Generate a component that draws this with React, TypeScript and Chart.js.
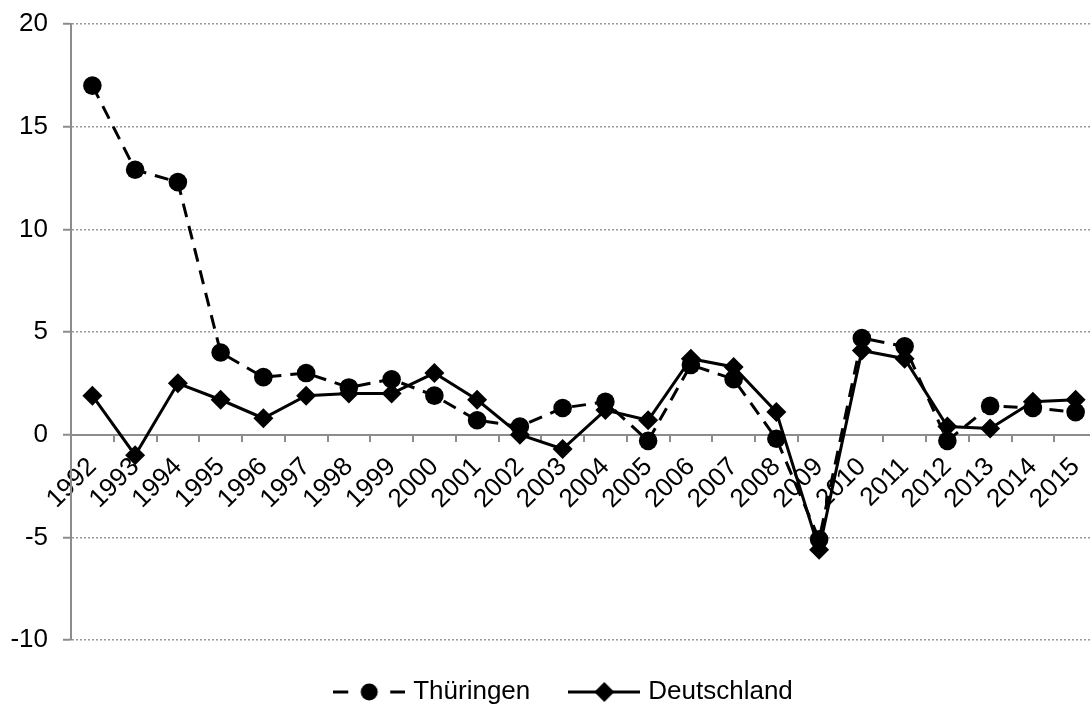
import React, { useEffect, useRef } from "react";
import { Chart, registerables } from "chart.js";

Chart.register(...registerables);

const years = [
  "1992", "1993", "1994", "1995", "1996", "1997", "1998", "1999", "2000", "2001", "2002", "2003",
  "2004", "2005", "2006", "2007", "2008", "2009", "2010", "2011", "2012", "2013", "2014", "2015",
];
const thueringen = [
  17.0, 12.9, 12.3, 4.0, 2.8, 3.0, 2.3, 2.7, 1.9, 0.7, 0.4, 1.3,
  1.6, -0.3, 3.4, 2.7, -0.2, -5.1, 4.7, 4.3, -0.3, 1.4, 1.3, 1.1,
];
const deutschland = [
  1.9, -1.0, 2.5, 1.7, 0.8, 1.9, 2.0, 2.0, 3.0, 1.7, 0.0, -0.7,
  1.2, 0.7, 3.7, 3.3, 1.1, -5.6, 4.1, 3.7, 0.4, 0.3, 1.6, 1.7,
];
const seriesNames = ["Thüringen", "Deutschland"];
const yMin = -10;
const yMax = 20;
const yStep = 5;

const FONT = "'Liberation Sans', Arial, sans-serif";
const FS = 26;
const LEGEND_DX = 17;
const LEGEND_DY = -4;

function legendIcon(kind: "dashed" | "solid"): HTMLCanvasElement {
  const c = document.createElement("canvas");
  c.width = 72;
  c.height = 22;
  const ctx = c.getContext("2d")!;
  ctx.strokeStyle = "#000";
  ctx.fillStyle = "#000";
  ctx.lineWidth = 3;
  if (kind === "dashed") {
    ctx.beginPath();
    ctx.moveTo(0, 11);
    ctx.lineTo(15, 11);
    ctx.moveTo(57, 11);
    ctx.lineTo(72, 11);
    ctx.stroke();
    ctx.beginPath();
    ctx.arc(36, 11, 8.5, 0, Math.PI * 2);
    ctx.fill();
  } else {
    ctx.beginPath();
    ctx.moveTo(0, 11);
    ctx.lineTo(72, 11);
    ctx.stroke();
    ctx.beginPath();
    ctx.moveTo(36, 1);
    ctx.lineTo(46, 11);
    ctx.lineTo(36, 21);
    ctx.lineTo(26, 11);
    ctx.closePath();
    ctx.fill();
  }
  return c;
}

const shiftLegend = {
  id: "shiftLegend",
  afterLayout(chart: any) {
    if (chart.legend) {
      chart.legend.left += LEGEND_DX;
      chart.legend.right += LEGEND_DX;
      chart.legend.top += LEGEND_DY;
      chart.legend.bottom += LEGEND_DY;
    }
  },
};

export default function App() {
  const ref = useRef<HTMLCanvasElement | null>(null);

  useEffect(() => {
    if (!ref.current) return;
    const icons = [legendIcon("dashed"), legendIcon("solid")];
    const chart = new Chart(ref.current, {
      type: "line",
      data: {
        labels: years,
        datasets: [
          {
            label: seriesNames[0],
            data: thueringen,
            borderColor: "#000",
            backgroundColor: "#000",
            borderWidth: 3,
            borderDash: [14, 9],
            pointStyle: "circle",
            pointRadius: 9.3,
            pointBorderWidth: 0,
            pointBackgroundColor: "#000",
            tension: 0,
            clip: false as any,
          },
          {
            label: seriesNames[1],
            data: deutschland,
            borderColor: "#000",
            backgroundColor: "#000",
            borderWidth: 3,
            pointStyle: "rectRot",
            pointRadius: 10,
            pointBorderWidth: 0,
            pointBackgroundColor: "#000",
            tension: 0,
            clip: false as any,
          },
        ],
      },
      plugins: [shiftLegend],
      options: {
        animation: false,
        responsive: false,
        devicePixelRatio: 1,
        layout: { autoPadding: false, padding: { top: 24, right: 1, bottom: -15, left: 0 } },
        scales: {
          x: {
            type: "category",
            position: { y: 0 } as any,
            offset: true,
            afterFit: (s: any) => {
              s.paddingLeft = 0;
              s.paddingRight = 0;
              s.paddingTop = 0;
              s.paddingBottom = 0;
            },
            grid: {
              display: true,
              drawOnChartArea: false,
              drawTicks: true,
              tickLength: 6,
              color: "#8c8c8c",
              offset: true,
              lineWidth: 2,
            },
            border: { display: true, color: "#8c8c8c", width: 2 },
            ticks: {
              color: "#000",
              font: { family: FONT, size: FS },
              maxRotation: 45,
              minRotation: 45,
              autoSkip: false,
              padding: 11,
            },
          },
          y: {
            type: "linear",
            min: yMin,
            max: yMax,
            afterFit: (s: any) => {
              s.width = 71;
              s.paddingTop = 0;
              s.paddingBottom = 0;
            },
            ticks: {
              stepSize: yStep,
              color: "#000",
              font: { family: FONT, size: FS },
              padding: 15,
            },
            grid: {
              color: "#999",
              lineWidth: 1.5,
              tickLength: 8,
              tickColor: "#8c8c8c",
              tickBorderDash: [],
              tickWidth: 2,
            } as any,
            border: { display: true, color: "#8c8c8c", width: 2, dash: [2, 2] },
          },
        },
        plugins: {
          legend: {
            display: true,
            position: "bottom",
            labels: {
              usePointStyle: true,
              pointStyleWidth: 62,
              color: "#000",
              font: { family: FONT, size: FS },
              padding: 43,
              generateLabels: (ch: any) =>
                ch.data.datasets.map((d: any, i: number) => ({
                  text: d.label,
                  pointStyle: icons[i],
                  fillStyle: "#000",
                  strokeStyle: "#000",
                  lineWidth: 0,
                  hidden: false,
                  datasetIndex: i,
                  fontColor: "#000",
                })),
            },
          },
          tooltip: { enabled: false },
        },
      },
    });
    return () => chart.destroy();
  }, []);

  return (
    <div style={{ position: "fixed", left: 0, top: 0, width: 1090, height: 704, overflow: "hidden", background: "#fff" }}>
      <canvas ref={ref} width={1098} height={704} style={{ display: "block" }} />
    </div>
  );
}
